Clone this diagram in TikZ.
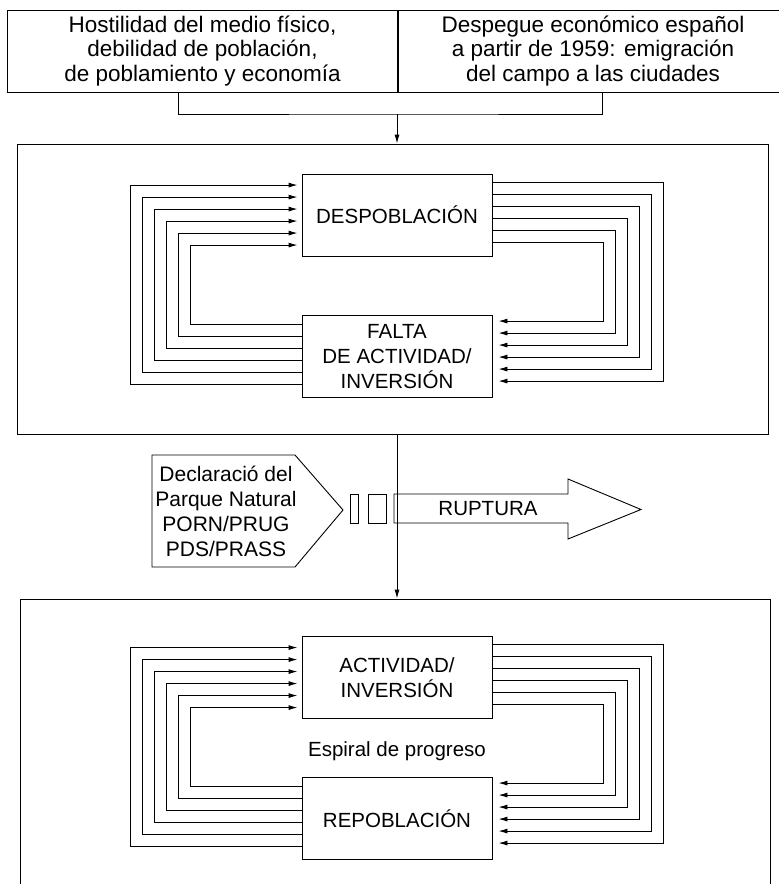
\documentclass[tikz,border=0pt]{standalone}
\usepackage{fontspec}
\setmainfont{Liberation Sans}
\usetikzlibrary{arrows.meta}

\newcommand{\toptext}{\fontsize{22.5pt}{24.5pt}\selectfont}
\newcommand{\boxtext}{\fontsize{20.5pt}{25pt}\selectfont}

\begin{document}
\begin{tikzpicture}[x=1pt, y=-1pt, line width=0.9pt]
    \tikzstyle{cell} = [rectangle, draw, minimum width=391pt, minimum height=82pt, align=center, font=\toptext]
    \tikzstyle{stage} = [rectangle, draw, minimum width=190pt, minimum height=82pt, align=center, font=\boxtext]
    \tikzstyle{frame} = [rectangle, draw]
    \tikzstyle{link} = [-{Latex[length=9pt, width=5pt]}]

    \clip (0,0) rectangle (779,884);

    % Causes
    \node [cell] (hostil) at (202.5,51) {Hostilidad del medio físico,\\debilidad de población,\\de poblamiento y economía};
    \node [cell] (despegue) at (593,51) {Despegue económico español\\a partir de 1959: emigración\\del campo a las ciudades};

    % Vicious circle
    \node [frame, minimum width=751pt, minimum height=290pt] (vicious) at (392.5,289) {};
    \node [stage] (desp) at (397,215) {DESPOBLACIÓN};
    \node [stage] (falta) at (397,356.5) {FALTA\\DE ACTIVIDAD/\\INVERSIÓN};

    % Progress
    \node [frame, minimum width=750pt, minimum height=320pt] (progress) at (395,759) {};
    \node [stage] (activ) at (397,677.5) {ACTIVIDAD/\\INVERSIÓN};
    \node [stage] (repob) at (397,818.5) {REPOBLACIÓN};
    \node [font=\boxtext] (espiral) at (397,751) {Espiral de progreso};

    % Join of the causes
    \coordinate (join) at (397,114);
    \draw ([xshift=-24.5pt]hostil.south) |- (join) -| ([xshift=9pt]despegue.south);
    \draw [link] (join) -- (join |- vicious.north);
    \draw [link] (join |- vicious.south) -- (join |- progress.north);

    % Rupture
    \draw (152,455) -- (295,455) -- (343,510) -- (295,567) -- (152,567) -- cycle;
    \node [font=\fontsize{21pt}{25pt}\selectfont, align=center] (decl) at (226,511) {Declaració del\\Parque Natural\\PORN/PRUG\\PDS/PRASS};
    \draw (350,494) rectangle (358,523);
    \draw (368,494) rectangle (386,523);
    \draw (394,494) -- (568,494) -- (568,479) -- (641,509.5) -- (568,539) -- (568,523) -- (394,523) -- cycle;
    \node [font=\boxtext] (ruptura) at (488,509) {RUPTURA};

    % Feedback loops
    \foreach \up/\dn in {desp/falta, activ/repob} {
      \foreach \i in {0,...,5} {
        \coordinate (xl) at (130+12*\i, 0);
        \coordinate (xr) at (663-12*\i, 0);
        % right side, down
        \coordinate (s) at ([yshift={-8.5-12*\i}]\up.north east);
        \coordinate (t) at ([yshift={-6-12*(5-\i)}]\dn.north east);
        \draw [link, shorten >=6pt] (s) -- (s -| xr) |- (t);
        % left side, up
        \coordinate (s) at ([yshift={-9.5-12*(5-\i)}]\dn.north west);
        \coordinate (t) at ([yshift={-11.5-12*\i}]\up.north west);
        \draw [link, shorten >=4pt] (s) -- (s -| xl) |- (t);
      }
    }
\end{tikzpicture}
\end{document}
